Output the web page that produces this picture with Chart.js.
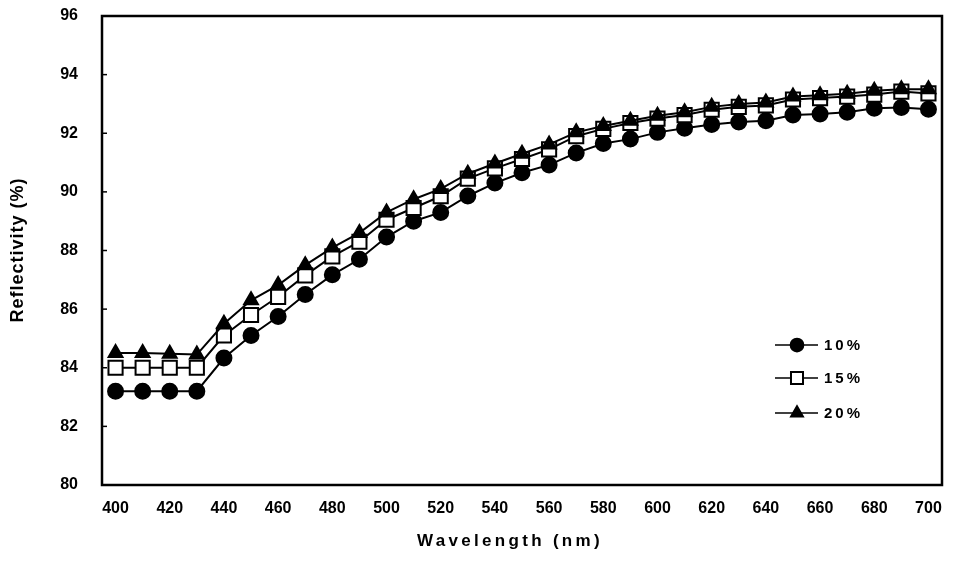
<!DOCTYPE html>
<html>
<head>
<meta charset="utf-8">
<script src="https://cdn.jsdelivr.net/npm/chart.js@4.4.1/dist/chart.umd.min.js"></script>
<style>
  html, body { margin: 0; padding: 0; background: #fff; }
  #wrap { width: 954px; height: 576px; }
</style>
</head>
<body>
<div id="wrap"><canvas id="refl-chart" width="954" height="576"></canvas></div>
<script>
// wavelength (nm)
const wavelengths = [400, 410, 420, 430, 440, 450, 460, 470, 480, 490, 500, 510, 520, 530, 540, 550,
                     560, 570, 580, 590, 600, 610, 620, 630, 640, 650, 660, 670, 680, 690, 700];

// reflectivity (%) per series
const refl10 = [83.2, 83.2, 83.2, 83.2, 84.33, 85.1, 85.75, 86.5, 87.17, 87.7, 88.46, 89.0, 89.3, 89.86, 90.3, 90.65,
                90.92, 91.33, 91.65, 91.8, 92.03, 92.17, 92.3, 92.38, 92.43, 92.62, 92.66, 92.72, 92.85, 92.88, 92.82];
const refl15 = [84.0, 84.0, 84.0, 84.0, 85.1, 85.8, 86.42, 87.15, 87.8, 88.3, 89.05, 89.45, 89.85, 90.45, 90.8, 91.12,
                91.45, 91.9, 92.15, 92.35, 92.5, 92.62, 92.8, 92.9, 92.95, 93.15, 93.2, 93.25, 93.32, 93.42, 93.36];
const refl20 = [84.5, 84.5, 84.48, 84.45, 85.5, 86.3, 86.82, 87.5, 88.1, 88.6, 89.3, 89.75, 90.1, 90.62, 90.97, 91.3,
                91.62, 92.03, 92.25, 92.43, 92.6, 92.72, 92.9, 93.0, 93.05, 93.25, 93.3, 93.35, 93.45, 93.5, 93.5];

const seriesLabels = ['10%', '15%', '20%'];
const yTicks = [80, 82, 84, 86, 88, 90, 92, 94, 96];
const xTitle = 'Wavelength (nm)';
const yTitle = 'Reflectivity (%)';

const ink = '#000';
const fam = "'Liberation Sans', Arial, sans-serif";
const tickFont = { family: fam, size: 16, weight: 'bold' };

// frame box + inward y tick marks
const framePlugin = {
    id: 'frame',
    afterDatasetsDraw(chart) {
        const {ctx, chartArea: a, scales} = chart;
        ctx.save();
        ctx.strokeStyle = ink;
        ctx.lineWidth = 2.5;
        ctx.strokeRect(a.left, a.top, a.right - a.left, a.bottom - a.top);
        ctx.lineWidth = 1.5;
        yTicks.forEach(v => {
            const y = scales.y.getPixelForValue(v);
            ctx.beginPath();
            ctx.moveTo(a.left, y);
            ctx.lineTo(a.left + 5, y);
            ctx.stroke();
        });
        ctx.restore();
    }
};

// axis titles (spaced lettering like the original)
const titlePlugin = {
    id: 'axisTitles',
    afterDraw(chart) {
        const {ctx} = chart;
        ctx.save();
        ctx.fillStyle = ink;
        ctx.textAlign = 'center';
        ctx.textBaseline = 'middle';
        ctx.font = 'bold 17px ' + fam;
        ctx.letterSpacing = '3.3px';
        ctx.fillText(xTitle, 510, 541);
        ctx.translate(18, 250);
        ctx.rotate(-Math.PI / 2);
        ctx.font = 'bold 18px ' + fam;
        ctx.letterSpacing = '1px';
        ctx.fillText(yTitle, 0, 0);
        ctx.restore();
    }
};

// legend drawn inside the plot, line through marker
const legendPlugin = {
    id: 'lineLegend',
    afterDraw(chart) {
        const {ctx} = chart;
        const rows = [345, 378, 413];
        ctx.save();
        chart.data.datasets.forEach((ds, i) => {
            const y = rows[i];
            ctx.strokeStyle = ink;
            ctx.lineWidth = 1.5;
            ctx.beginPath();
            ctx.moveTo(775, y);
            ctx.lineTo(818, y);
            ctx.stroke();
            ctx.fillStyle = ds.pointBackgroundColor;
            ctx.strokeStyle = ink;
            ctx.lineWidth = ds.pointBorderWidth;
            Chart.helpers.drawPoint(ctx, {
                pointStyle: ds.pointStyle,
                radius: ds.pointRadius * 0.85,
                borderWidth: ds.pointBorderWidth
            }, 797, y);
            ctx.font = 'bold 15px ' + fam;
            ctx.letterSpacing = '3px';
            ctx.fillStyle = ink;
            ctx.textBaseline = 'middle';
            ctx.fillText(ds.label, 824, y + 1);
        });
        ctx.restore();
    }
};

function makeChart() {
    const ctx = document.getElementById('refl-chart');

    const mk = (label, data, style, radius, fill, order) => ({
        label: label,
        data: data,
        borderColor: ink,
        borderWidth: 2,
        pointStyle: style,
        pointRadius: radius,
        pointBackgroundColor: fill,
        pointBorderColor: ink,
        pointBorderWidth: 2,
        tension: 0,
        order: order
    });

    const config = {
        type: 'line',
        data: {
            labels: wavelengths,
            datasets: [
                mk(seriesLabels[0], refl10, 'circle', 7.5, ink, 2),
                mk(seriesLabels[1], refl15, 'rect', 10, '#fff', 1),
                mk(seriesLabels[2], refl20, 'triangle', 8, ink, 0)
            ]
        },
        options: {
            responsive: false,
            animation: false,
            layout: { padding: { top: 16, right: 7, left: 0, bottom: 0 } },
            plugins: {
                legend: { display: false },
                tooltip: { enabled: false }
            },
            scales: {
                x: {
                    type: 'category',
                    offset: true,
                    grid: { display: false, drawTicks: false },
                    border: { display: false },
                    ticks: {
                        color: ink,
                        font: tickFont,
                        padding: 14,
                        autoSkip: false,
                        maxRotation: 0,
                        callback: function (v, i) { return i % 2 === 0 ? this.getLabelForValue(v) : ''; }
                    },
                    afterFit: s => {
                        s.height = 91;
                        s.paddingLeft = 0;
                        s.paddingRight = 0;
                    }
                },
                y: {
                    min: 80,
                    max: 96,
                    grid: { display: false, drawTicks: false },
                    border: { display: false },
                    ticks: {
                        color: ink,
                        font: tickFont,
                        padding: 24,
                        stepSize: 2
                    },
                    afterFit: s => {
                        s.width = 102;
                        s.paddingTop = 0;
                        s.paddingBottom = 0;
                    }
                }
            }
        },
        plugins: [framePlugin, titlePlugin, legendPlugin]
    };

    return new Chart(ctx, config);
}

window.addEventListener('DOMContentLoaded', () => {
    makeChart();
});
</script>
</body>
</html>
